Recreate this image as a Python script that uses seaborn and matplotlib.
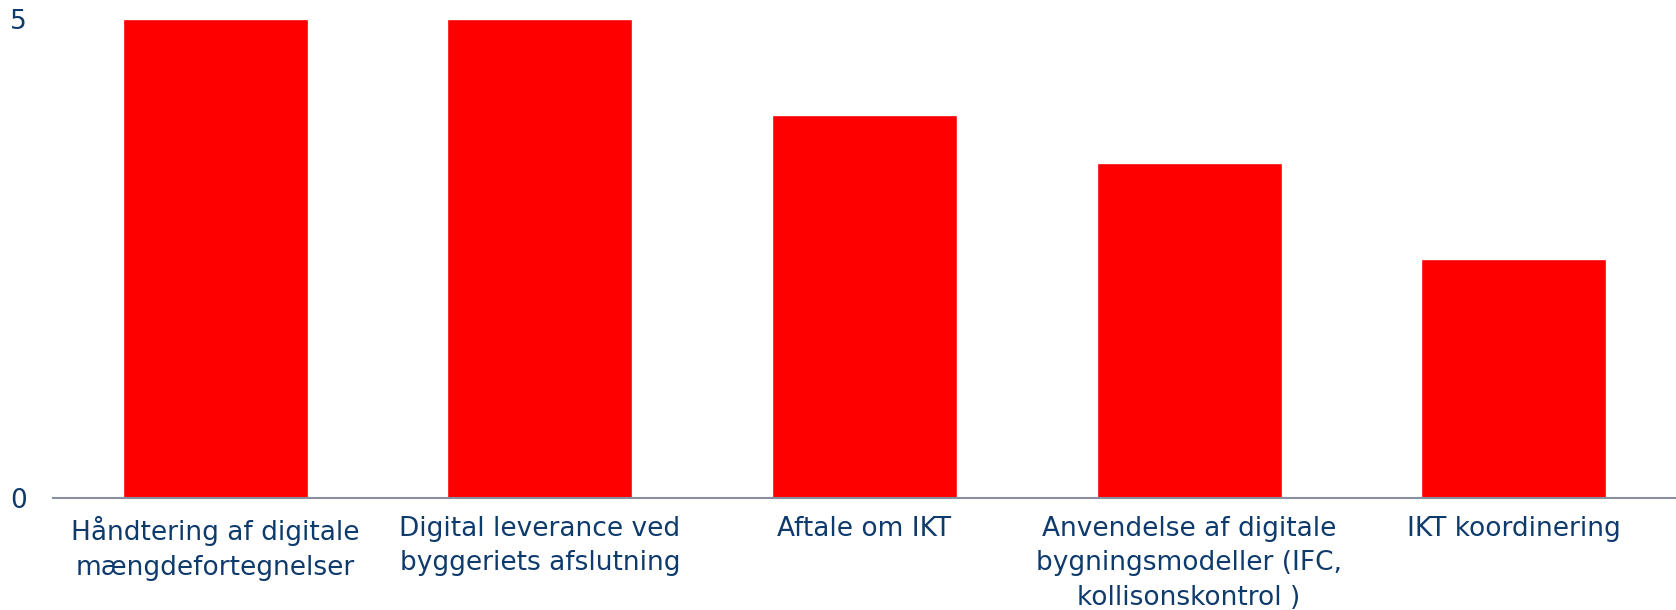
import matplotlib
matplotlib.use("Agg")
import matplotlib.pyplot as plt
import seaborn as sns
import pandas as pd

categories = [
    "Håndtering af digitale\nmængdefortegnelser",
    "Digital leverance ved\nbyggeriets afslutning",
    "Aftale om IKT",
    "Anvendelse af digitale\nbygningsmodeller (IFC,\nkollisonskontrol )",
    "IKT koordinering",
]
values = [5, 5, 4, 3.5, 2.5]
yticks = [0, 5]

sns.set_theme(style="white")
plt.rcParams["font.family"] = ["DejaVu Sans"]

df = pd.DataFrame({"cat": categories, "val": values})

fig = plt.figure(figsize=(16.76, 6.10), dpi=100)
ax = fig.add_axes([53 / 1676, (610 - 498) / 610, 1 - 53 / 1676, (498 - 19) / 610])
sns.barplot(data=df, x="cat", y="val", color="#ff0000", saturation=1, width=0.57, ax=ax)

text_color = "#0e3a6c"
ax.set_xlim(-0.5, 4.5)
ax.set_ylim(0, 5)
ax.set_yticks(yticks)
ax.set_yticklabels([str(t) for t in yticks], color=text_color, fontsize=19)
ax.tick_params(axis="y", length=0, pad=19)
ax.tick_params(axis="x", length=0, pad=13)
for lbl in ax.get_xticklabels():
    lbl.set_color(text_color)
    lbl.set_fontsize(19)
    lbl.set_linespacing(1.42)
    lbl.set_verticalalignment("top")
ax.set_xlabel("")
ax.set_ylabel("")
for s in ["top", "right", "left"]:
    ax.spines[s].set_visible(False)
ax.spines["bottom"].set_color("#8a8fa0")
ax.spines["bottom"].set_linewidth(1.5)

fig.savefig("out.png", dpi=100)
